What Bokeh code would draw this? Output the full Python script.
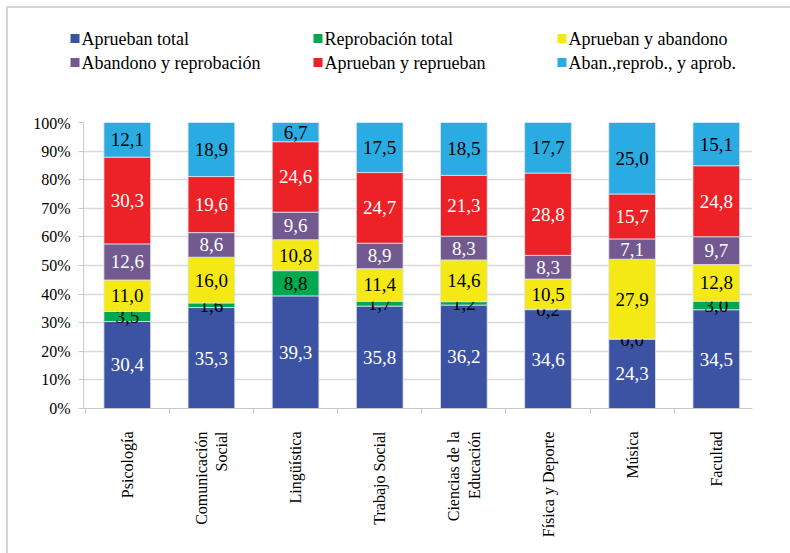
import math
import numpy as np
from bokeh.plotting import figure
from bokeh.layouts import column
from bokeh.models import (ColumnDataSource, FixedTicker, Range1d, NumeralTickFormatter)
from bokeh.core.properties import value
from bokeh.embed import file_html
from bokeh.resources import INLINE

categories = ["Psicología", "Comunicación\nSocial", "Lingüística", "Trabajo Social",
              "Ciencias de la\nEducación", "Física y Deporte", "Música", "Facultad"]
series_names = ["Aprueban total", "Reprobación total", "Aprueban y abandono",
                "Abandono y reprobación", "Aprueban y reprueban", "Aban.,reprob., y aprob."]
aprueban_total = [30.4, 35.3, 39.3, 35.8, 36.2, 34.6, 24.3, 34.5]
reprobacion_total = [3.5, 1.6, 8.8, 1.7, 1.2, 0.2, 0.0, 3.0]
aprueban_abandono = [11.0, 16.0, 10.8, 11.4, 14.6, 10.5, 27.9, 12.8]
abandono_reprobacion = [12.6, 8.6, 9.6, 8.9, 8.3, 8.3, 7.1, 9.7]
aprueban_reprueban = [30.3, 19.6, 24.6, 24.7, 21.3, 28.8, 15.7, 24.8]
aban_reprob_aprob = [12.1, 18.9, 6.7, 17.5, 18.5, 17.7, 25.0, 15.1]
y_ticks = [0.0, 0.1, 0.2, 0.3, 0.4, 0.5, 0.6, 0.7, 0.8, 0.9, 1.0]

series = [aprueban_total, reprobacion_total, aprueban_abandono,
          abandono_reprobacion, aprueban_reprueban, aban_reprob_aprob]
colors = ["#3C53A4", "#00A94F", "#F4E914", "#725A91", "#EC2227", "#2AABE2"]
label_colors = ["white", "black", "black", "white", "white", "black"]

FONT = "Liberation Serif"
W = 790
LEG_H = 114

# ---------- legend strip (pixel-like coordinates, y downward) ----------
leg = figure(width=W, height=LEG_H, x_range=Range1d(0, W), y_range=Range1d(LEG_H, 0),
             x_axis_type=None, y_axis_type=None, output_backend="svg",
             toolbar_location=None, min_border=0)
leg.frame_align = False
leg.outline_line_color = None
leg.background_fill_alpha = 0
leg.border_fill_alpha = 0
leg.xgrid.visible = False
leg.ygrid.visible = False
col_x = [70, 313, 557]
row_y = [38, 62]
lx = [col_x[i % 3] for i in range(len(series_names))]
ly = [row_y[i // 3] for i in range(len(series_names))]
lsrc = ColumnDataSource(dict(x=lx, y=ly, sx=[v + 4.5 for v in lx], tx=[v + 11 for v in lx],
                             name=series_names, color=colors))
leg.rect(x="sx", y="y", width=9, height=9, source=lsrc, fill_color="color", line_color=None)
leg.text(x="tx", y="y", text="name", source=lsrc, text_align="left", text_baseline="middle",
         text_color="black", text_font=value(FONT), text_font_size="18px")

# ---------- chart ----------
p = figure(width=W, height=553 - LEG_H, x_range=Range1d(-0.02, 7.93), y_range=Range1d(0, 1),
           output_backend="svg", toolbar_location=None,
           min_border_left=83, min_border_right=38, min_border_top=8, min_border_bottom=145)
p.frame_align = False
p.outline_line_color = None
p.border_fill_alpha = 0

totals = np.sum(np.array(series), axis=0)
xs = [i + 0.5 for i in range(len(categories))]
bottom = np.zeros(len(categories))
for name, vals, col, lc in zip(series_names, series, colors, label_colors):
    frac = np.array(vals) / totals
    top = bottom + frac
    src = ColumnDataSource(dict(x=xs, bottom=bottom.copy(), top=top.copy(),
                                mid=(bottom + top) / 2,
                                lab=[f"{v:.1f}".replace(".", ",") for v in vals]))
    p.vbar(x="x", bottom="bottom", top="top", width=0.555, source=src,
           fill_color=col, line_color="#dfe3ee", line_width=0.8)
    p.text(x="x", y="mid", text="lab", source=src, text_align="center",
           text_baseline="middle", text_color=lc, text_font=value(FONT),
           text_font_size="19px")
    bottom = top

# y axis
yax = p.yaxis[0]
yax.ticker = FixedTicker(ticks=y_ticks)
yax.formatter = NumeralTickFormatter(format="0%")
yax.major_label_text_font = FONT
yax.major_label_text_font_size = "16px"
yax.major_label_text_color = "black"
yax.axis_line_color = "#c8c8c8"
yax.major_tick_line_color = "#c8c8c8"
yax.major_tick_in = 0
yax.major_tick_out = 5
yax.minor_tick_line_color = None
yax.major_label_standoff = 8
p.ygrid.ticker = FixedTicker(ticks=y_ticks)
p.ygrid.grid_line_color = "#d9d9d9"
p.ygrid.grid_line_width = 1.5
p.xgrid.visible = False

# x axis: category labels, divider ticks between categories
xax = p.xaxis[0]
xax.ticker = FixedTicker(ticks=xs, minor_ticks=list(range(len(categories) + 1)))
xax.major_label_overrides = {x: c for x, c in zip(xs, categories)}
xax.major_label_orientation = math.pi / 2
xax.major_label_text_font = FONT
xax.major_label_text_font_size = "16px"
xax.major_label_text_color = "black"
xax.axis_line_color = "#c8c8c8"
xax.major_tick_line_color = None
xax.minor_tick_line_color = "#c8c8c8"
xax.minor_tick_in = 0
xax.minor_tick_out = 5
xax.major_label_standoff = 17

layout = column(leg, p, spacing=0)
layout.styles = {"box-shadow": "inset 6px 6px 0 0 #ffffff, inset 8px 8px 0 0 #d6d6d6"}
open("out.html", "w").write(file_html(layout, INLINE))
